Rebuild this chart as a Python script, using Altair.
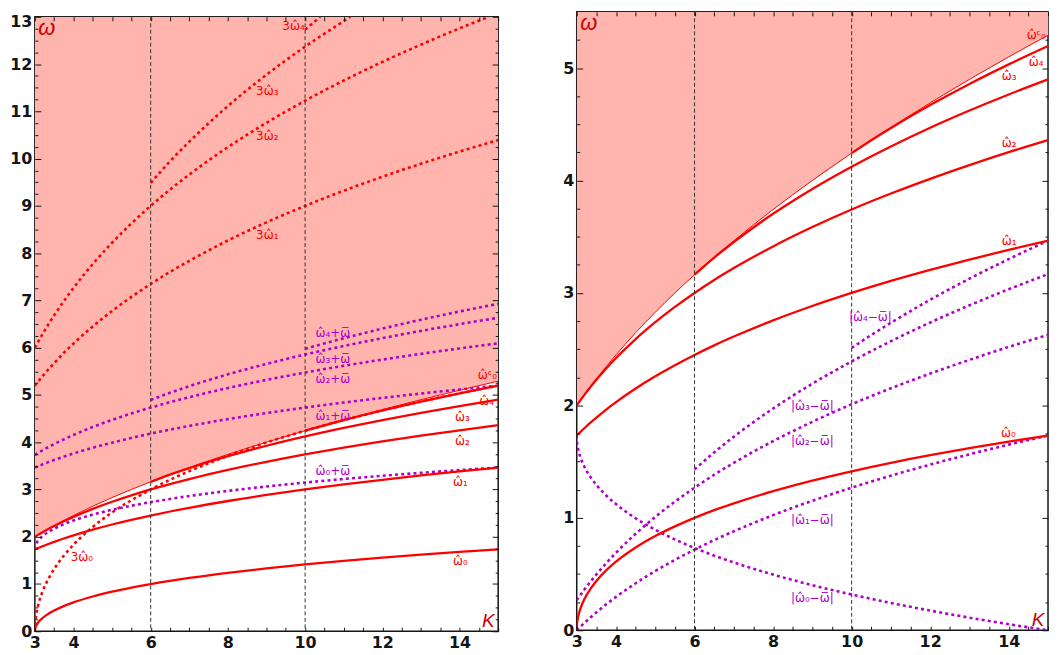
import altair as alt
import pandas as pd

RED = "#ff0000"
PURPLE = "#b000c8"
PINK = "#ffb4ad"
DARKRED = "#c80000"
INK = "#151515"

# ---------------- data ----------------
K_ALL = [3, 3.005, 3.02, 3.05, 3.1, 3.2, 3.35, 3.5, 3.75, 4, 4.5, 5, 5.5, 6,
         6.5, 7, 8, 9, 10, 11, 12, 13, 14, 15]
K_FROM6 = [6, 6.5, 7, 8, 9, 10, 11, 12, 13, 14, 15]
K_FROM10 = [10, 10.5, 11, 12, 13, 14, 15]

# solid red branches  w_n
w0 = [0, 0.045, 0.089, 0.141, 0.199, 0.281, 0.369, 0.439, 0.533, 0.610, 0.736, 0.838,
      0.924, 1.0, 1.068, 1.129, 1.237, 1.331, 1.414, 1.489, 1.557, 1.620, 1.678, 1.732]
w1 = [1.732, 1.734, 1.739, 1.749, 1.766, 1.799, 1.846, 1.891, 1.963, 2.029, 2.150, 2.259,
      2.358, 2.449, 2.534, 2.612, 2.756, 2.884, 3.0, 3.107, 3.205, 3.297, 3.383, 3.464]
w2 = [2.0, 2.003, 2.010, 2.025, 2.049, 2.096, 2.164, 2.228, 2.328, 2.421, 2.590, 2.740,
      2.876, 3.0, 3.115, 3.221, 3.414, 3.586, 3.742, 3.884, 4.015, 4.137, 4.252, 4.359]
w3 = [3.162, 3.314, 3.453, 3.704, 3.925, 4.123, 4.303, 4.469, 4.622, 4.765, 4.899]
w4 = [4.243, 4.358, 4.467, 4.671, 4.859, 5.033, 5.196]
# thin boundary curve  w0^c
w0c = [2.0, 2.003, 2.010, 2.025, 2.049, 2.098, 2.168, 2.236, 2.345, 2.449, 2.646, 2.828,
       3.0, 3.162, 3.317, 3.464, 3.742, 4.0, 4.243, 4.472, 4.690, 4.899, 5.099, 5.292]

# dotted red  3*w_n (left panel)
t0 = [0, 0.134, 0.268, 0.423, 0.597, 0.843, 1.107, 1.317, 1.599, 1.830, 2.208, 2.514,
      2.772, 3.0, 3.204, 3.387, 3.711, 3.993, 4.242, 4.467, 4.671, 4.860, 5.034, 5.196]
t1 = [5.196, 5.201, 5.217, 5.247, 5.298, 5.397, 5.538, 5.673, 5.889, 6.087, 6.450, 6.777,
      7.074, 7.347, 7.602, 7.836, 8.268, 8.652, 9.0, 9.321, 9.615, 9.891, 10.149, 10.392]
K_T2 = [3, 3.005, 3.02, 3.05, 3.1, 3.2, 3.35, 3.5, 3.75, 4, 4.5, 5, 5.5, 6,
        6.5, 7, 8, 9, 10, 11, 12, 13, 14, 14.76]
t2 = [6.0, 6.008, 6.030, 6.075, 6.147, 6.288, 6.492, 6.684, 6.984, 7.263, 7.770, 8.220,
      8.628, 9.0, 9.345, 9.663, 10.242, 10.758, 11.226, 11.652, 12.045, 12.411, 12.756, 13.0]
K_T3 = [6, 6.5, 7, 8, 9, 10, 11, 11.17]
t3 = [9.486, 9.942, 10.359, 11.112, 11.775, 12.369, 12.909, 13.0]
K_T4 = [10, 10.2, 10.39]
t4 = [12.729, 12.868, 13.0]

# dotted purple  w_n + wbar (left panel)
p0 = [1.732, 1.777, 1.821, 1.873, 1.931, 2.013, 2.101, 2.171, 2.265, 2.342, 2.468, 2.570,
      2.656, 2.732, 2.800, 2.861, 2.969, 3.063, 3.146, 3.221, 3.289, 3.352, 3.410, 3.464]
p1 = [3.464, 3.466, 3.471, 3.481, 3.498, 3.531, 3.578, 3.623, 3.695, 3.761, 3.882, 3.991,
      4.090, 4.181, 4.266, 4.344, 4.488, 4.616, 4.732, 4.839, 4.937, 5.029, 5.115, 5.196]
p2 = [3.732, 3.735, 3.742, 3.757, 3.781, 3.828, 3.896, 3.960, 4.060, 4.153, 4.322, 4.472,
      4.608, 4.732, 4.847, 4.953, 5.146, 5.318, 5.474, 5.616, 5.747, 5.869, 5.984, 6.091]
p3 = [4.894, 5.046, 5.185, 5.436, 5.657, 5.855, 6.035, 6.201, 6.354, 6.497, 6.631]
p4 = [5.975, 6.090, 6.199, 6.403, 6.591, 6.765, 6.928]

# dotted purple  |w_n - wbar| (right panel)
m0 = [1.732, 1.687, 1.643, 1.591, 1.533, 1.451, 1.363, 1.293, 1.199, 1.122, 0.996, 0.894,
      0.808, 0.732, 0.664, 0.603, 0.495, 0.401, 0.318, 0.243, 0.175, 0.112, 0.054, 0.0]
m1 = [0.0, 0.002, 0.007, 0.017, 0.034, 0.067, 0.114, 0.159, 0.231, 0.297, 0.418, 0.527,
      0.626, 0.717, 0.802, 0.880, 1.024, 1.152, 1.268, 1.375, 1.473, 1.565, 1.651, 1.732]
m2 = [0.268, 0.271, 0.278, 0.293, 0.317, 0.364, 0.432, 0.496, 0.596, 0.689, 0.858, 1.008,
      1.144, 1.268, 1.383, 1.489, 1.682, 1.854, 2.010, 2.152, 2.283, 2.405, 2.520, 2.627]
m3 = [1.430, 1.582, 1.721, 1.972, 2.193, 2.391, 2.571, 2.737, 2.890, 3.033, 3.167]
m4 = [2.511, 2.626, 2.735, 2.939, 3.127, 3.301, 3.464]

K_MARKERS = [6, 10]

H = "\u03c9\u0302"       # omega hat
B = "\u03c9\u0305"       # omega bar
SUB = ["\u2080", "\u2081", "\u2082", "\u2083", "\u2084"]
C0 = H + "\u1d9c" + SUB[0]

LEFT_LABELS = ["3" + H + SUB[4], "3" + H + SUB[3], "3" + H + SUB[2], "3" + H + SUB[1],
               "3" + H + SUB[0],
               H + SUB[4] + "+" + B, H + SUB[3] + "+" + B, H + SUB[2] + "+" + B,
               H + SUB[1] + "+" + B, H + SUB[0] + "+" + B,
               C0, H + SUB[4], H + SUB[3], H + SUB[2], H + SUB[1], H + SUB[0]]
LEFT_LABEL_K = [9.70, 9.02, 9.02, 9.02, 4.22, 10.72, 10.72, 10.72, 10.72, 10.72,
                14.72, 14.70, 14.07, 14.07, 14.02, 14.02]
LEFT_LABEL_V = [12.81, 11.43, 10.47, 8.38, 1.57, 6.31, 5.75, 5.33, 4.56, 3.39,
                5.43, 4.87, 4.54, 4.03, 3.16, 1.48]
LEFT_LABEL_C = [RED] * 5 + [PURPLE] * 5 + [RED] * 6

RIGHT_LABELS = [C0, H + SUB[4], H + SUB[3], H + SUB[2], H + SUB[1], H + SUB[0],
                "|" + H + SUB[4] + "\u2212" + B + "|", "|" + H + SUB[3] + "\u2212" + B + "|",
                "|" + H + SUB[2] + "\u2212" + B + "|", "|" + H + SUB[1] + "\u2212" + B + "|",
                "|" + H + SUB[0] + "\u2212" + B + "|"]
RIGHT_LABEL_K = [14.70, 14.70, 14.01, 14.01, 14.01, 13.99, 10.48, 9.0, 9.0, 9.0, 9.0]
RIGHT_LABEL_V = [5.29, 5.05, 4.93, 4.33, 3.46, 1.75, 2.79, 1.99, 1.68, 0.98, 0.29]
RIGHT_LABEL_C = [RED] * 6 + [PURPLE] * 5


def frame(pairs):
    return pd.concat([pd.DataFrame({"K": k, "v": v, "s": n}) for n, k, v in pairs],
                     ignore_index=True)


solid_df = frame([("w0", K_ALL, w0), ("w1", K_ALL, w1), ("w2", K_ALL, w2),
                  ("w3", K_FROM6, w3), ("w4", K_FROM10, w4)])
thin_df = frame([("w0c", K_ALL, w0c)])
red_dot_df = frame([("t0", K_ALL, t0), ("t1", K_ALL, t1), ("t2", K_T2, t2),
                    ("t3", K_T3, t3), ("t4", K_T4, t4)])
plus_df = frame([("p0", K_ALL, p0), ("p1", K_ALL, p1), ("p2", K_ALL, p2),
                 ("p3", K_FROM6, p3), ("p4", K_FROM10, p4)])
minus_df = frame([("m0", K_ALL, m0), ("m1", K_ALL, m1), ("m2", K_ALL, m2),
                  ("m3", K_FROM6, m3), ("m4", K_FROM10, m4)])
rules_df = pd.DataFrame({"K": K_MARKERS})

X_TICKS = [3 + 0.5 * i for i in range(25)]
LABEL_FONT = "DejaVu Sans"


def axis(orient, values, size, labels=False, expr=None, top_value=None):
    kw = dict(orient=orient, values=values, tickSize=size, offset=-size, domain=False,
              grid=False, labels=labels, title=None, tickColor=INK, tickWidth=1, zindex=2)
    if labels:
        kw.update(labelFont=LABEL_FONT, labelFontSize=16, labelFontWeight="bold",
                  labelColor=INK, labelPadding=3, labelOverlap=False, labelFlush=False)
        if expr:
            kw["labelExpr"] = expr
        if top_value is not None:
            kw["labelOffset"] = {"condition": {"test": f"datum.value == {top_value}",
                                               "value": 5}, "value": 0}
    return alt.Axis(**kw)


def panel(ymax, width, height, major, minor, lines_spec, labels, lab_k, lab_v, lab_c,
          top_value=None):
    xs = alt.Scale(domain=[3, 15], nice=False, zero=False)
    ys = alt.Scale(domain=[0, ymax], nice=False, zero=False)

    def X(ax=None, field="K:Q"):
        return alt.X(field, scale=xs, axis=ax)

    def Y(ax=None, field="v:Q"):
        return alt.Y(field, scale=ys, axis=ax)

    xexpr = "(datum.value == 3 || datum.value % 2 == 0) ? format(datum.value, 'd') : ''"

    area = alt.Chart(thin_df).mark_area(color=PINK, interpolate="monotone", clip=True).encode(
        x=X(axis("bottom", X_TICKS, 4, True, xexpr)),
        y=Y(axis("left", major, 6, True, top_value=top_value)),
        y2=alt.datum(ymax),
    )
    solid = alt.Chart(solid_df).mark_line(color=RED, strokeWidth=2.3, interpolate="monotone",
                                          clip=True).encode(
        x=X(axis("top", X_TICKS, 4)),
        y=Y(axis("left", minor, 3)),
        detail="s:N",
    )
    thin = alt.Chart(thin_df).mark_line(color=RED, strokeWidth=1.0, interpolate="monotone",
                                        clip=True).encode(x=X(), y=Y())
    layers = [area]
    first = True
    for df, col in lines_spec:
        ax = axis("right", major, 6) if first else axis("right", minor, 3)
        first = False
        layers.append(alt.Chart(df).mark_line(color=col, strokeWidth=2.6, strokeDash=[3, 3.2],
                                              interpolate="monotone", clip=True).encode(
            x=X(), y=Y(ax), detail="s:N"))
    if len(lines_spec) == 1:
        layers.append(alt.Chart(thin_df).mark_line(opacity=0, clip=True).encode(
            x=X(), y=Y(axis("right", minor, 3))))
    rules = alt.Chart(rules_df).mark_rule(color="#333333", strokeWidth=1,
                                          strokeDash=[4, 2.5]).encode(x=X())
    lab_df = pd.DataFrame({"t": labels, "K": lab_k, "v": lab_v, "c": lab_c})
    texts = alt.Chart(lab_df).mark_text(font=LABEL_FONT, fontSize=12, align="center",
                                        baseline="middle").encode(
        x=X(), y=Y(), text="t:N", color=alt.Color("c:N", scale=None))
    omega = alt.Chart(pd.DataFrame({"t": ["\u03c9"]})).mark_text(
        font="Liberation Sans", fontStyle="italic", fontSize=22, color=DARKRED,
        align="center", baseline="middle").encode(
        x=alt.value(12), y=alt.value(11), text="t:N")
    kay = alt.Chart(pd.DataFrame({"t": ["K"]})).mark_text(
        font="Liberation Sans", fontStyle="italic", fontSize=19, color=DARKRED,
        align="center", baseline="middle").encode(
        x=alt.value(width - 10), y=alt.value(height - 10), text="t:N")
    layers += [thin, solid, rules, texts, omega, kay]
    return alt.layer(*layers).resolve_axis(x="independent", y="independent").properties(
        width=width, height=height)


left_major = list(range(0, 14))
left_minor = [i + q for i in range(13) for q in (0.25, 0.5, 0.75)]
right_major = list(range(0, 6))
right_minor = [i + q for i in range(6) for q in (0.25, 0.5, 0.75) if i + q < 5.5]

left = panel(13, 466, 618, left_major, left_minor,
             [(red_dot_df, RED), (plus_df, PURPLE)],
             LEFT_LABELS, LEFT_LABEL_K, LEFT_LABEL_V, LEFT_LABEL_C, top_value=13)
right = panel(5.5, 474, 622, right_major, right_minor,
              [(minus_df, PURPLE)],
              RIGHT_LABELS, RIGHT_LABEL_K, RIGHT_LABEL_V, RIGHT_LABEL_C)

# invisible spacer that lowers the left panel a few pixels below the right one
spacer = alt.Chart(pd.DataFrame({"a": [0]})).mark_rule(opacity=0, strokeWidth=0).encode(
    x=alt.value(0), x2=alt.value(1), y=alt.value(0.5)
).properties(width=10, height=1, view=alt.ViewBackground(stroke=None, strokeWidth=0))

chart = alt.hconcat(alt.vconcat(spacer, left, spacing=0), right, spacing=62).properties(
    padding=0).configure_view(stroke=INK, strokeWidth=1.5)

chart.save("out.html", embed_options={"renderer": "svg", "actions": False})
